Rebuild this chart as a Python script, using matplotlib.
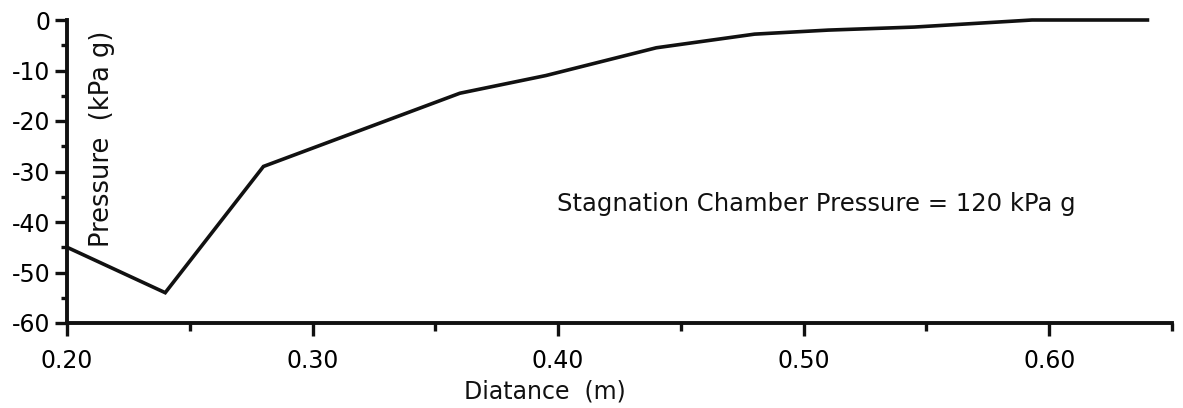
import matplotlib
matplotlib.use("Agg")
import matplotlib.pyplot as plt
from matplotlib.ticker import MultipleLocator, FixedLocator

plt.rcParams["axes.unicode_minus"] = False

# Measured static pressure along the duct
distance = [0.20, 0.24, 0.28, 0.36, 0.395, 0.44, 0.48, 0.51, 0.545, 0.593, 0.64]
pressure = [-45.0, -54.0, -29.0, -14.5, -11.0, -5.5, -2.8, -2.0, -1.4, 0.0, 0.0]

x_major = [0.20, 0.30, 0.40, 0.50, 0.60]
x_labels = ["0.20", "0.30", "0.40", "0.50", "0.60"]
y_major = [0, -10, -20, -30, -40, -50, -60]

fig = plt.figure(figsize=(11.83, 4.08), dpi=100)
ax = fig.add_axes([67 / 1183, 1 - 323 / 408, (1172 - 67) / 1183, (323 - 20) / 408])

ax.plot(distance, pressure, color="#111111", lw=2.6, solid_joinstyle="miter",
        clip_on=False)

ax.set_xlim(0.20, 0.65)
ax.set_ylim(-60, 0)

for side in ("top", "right"):
    ax.spines[side].set_visible(False)
for side in ("left", "bottom"):
    ax.spines[side].set_linewidth(2.8)
    ax.spines[side].set_color("#111111")

ax.xaxis.set_major_locator(FixedLocator(x_major))
ax.set_xticklabels(x_labels)
ax.xaxis.set_minor_locator(MultipleLocator(0.05))
ax.yaxis.set_major_locator(FixedLocator(y_major))
ax.yaxis.set_minor_locator(MultipleLocator(5))

ax.tick_params(axis="x", which="major", direction="out", length=9.5, width=2.4,
               pad=9, labelsize=17, color="#111111")
ax.tick_params(axis="x", which="minor", direction="out", length=5.5, width=2.4,
               color="#111111")
ax.tick_params(axis="y", which="major", direction="out", length=9, width=2.4,
               pad=3, labelsize=17, color="#111111")
ax.tick_params(axis="y", which="minor", direction="out", length=4, width=2.4,
               color="#111111")

ax.text(0.2142, -23.6, "Pressure  (kPa g)", rotation=90, ha="center", va="center",
        fontsize=18.5, color="#111111")
ax.text(0.3994, -37.8, "Stagnation Chamber Pressure = 120 kPa g", ha="left",
        va="baseline", fontsize=17.5, color="#111111")
fig.text(545 / 1183, 1 - 392 / 408, "Diatance  (m)", ha="center", va="center",
         fontsize=17, color="#111111")

fig.savefig("out.png", dpi=100)
